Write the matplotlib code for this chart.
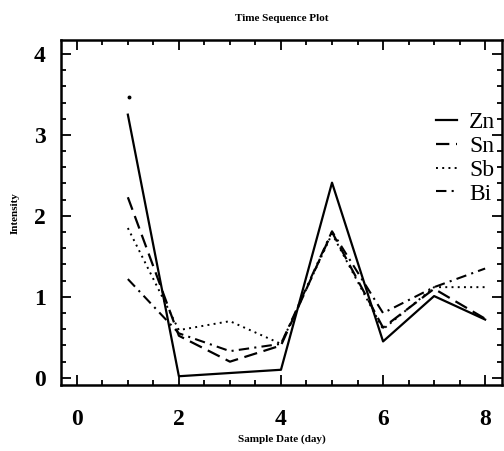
import numpy as np
import matplotlib.pyplot as plt
from matplotlib.ticker import MultipleLocator

# sample days and intensities
days = [1, 2, 3, 4, 5, 6, 7, 8]
zn = [3.25, 0.02, 0.06, 0.10, 2.41, 0.45, 1.01, 0.72]
sn = [2.23, 0.52, 0.20, 0.40, 1.80, 0.62, 1.10, 0.73]
sb = [1.85, 0.59, 0.70, 0.42, 1.78, 0.60, 1.12, 1.12]
bi = [1.22, 0.55, 0.33, 0.42, 1.81, 0.80, 1.12, 1.35]
stray_x = [1.02]
stray_y = [3.47]

plt.rcParams['font.family'] = ['Liberation Serif', 'DejaVu Serif']

fig = plt.figure(figsize=(5.04, 4.51), dpi=100)
ax = fig.add_axes([0.121, 0.146, 0.875, 0.765])

ax.plot(days, zn, color='black', lw=1.6, ls='-', label='Zn')
ax.plot(days, sn, color='black', lw=1.6, ls=(0, (6, 3)), label='Sn')
ax.plot(days, sb, color='black', lw=1.4, ls=(0, (1, 2.2)), label='Sb')
ax.plot(days, bi, color='black', lw=1.5, ls=(0, (5, 2.5, 1, 2.5)), label='Bi')
ax.plot(stray_x, stray_y, 'o', color='black', ms=1.8)

ax.set_xlim(-0.31, 8.33)
ax.set_ylim(-0.09, 4.17)
ax.xaxis.set_major_locator(MultipleLocator(2))
ax.xaxis.set_minor_locator(MultipleLocator(0.5))
ax.yaxis.set_major_locator(MultipleLocator(1))
ax.yaxis.set_minor_locator(MultipleLocator(0.2))
ax.tick_params(which='both', direction='in', top=True, right=True, width=1.3)
ax.tick_params(which='major', length=7, labelsize=17)
ax.tick_params(axis='x', which='major', pad=17)
ax.tick_params(axis='y', which='major', pad=11)
ax.tick_params(which='minor', length=3.5)
for lbl in ax.get_xticklabels() + ax.get_yticklabels():
    lbl.set_fontweight('bold')
for sp in ax.spines.values():
    sp.set_linewidth(1.8)

ax.set_title('Time Sequence Plot', fontsize=8, fontweight='bold', pad=14)
ax.set_xlabel('Sample Date (day)', fontsize=8, fontweight='bold', labelpad=3)
ax.set_ylabel('Intensity', fontsize=8, fontweight='bold', labelpad=10)

ax.legend(loc='upper right', bbox_to_anchor=(0.99, 0.80), frameon=False,
          fontsize=17, handlelength=0.9, handletextpad=0.5,
          labelspacing=0.1, borderaxespad=0.0, borderpad=0.1)

fig.savefig('out.png', dpi=100)
